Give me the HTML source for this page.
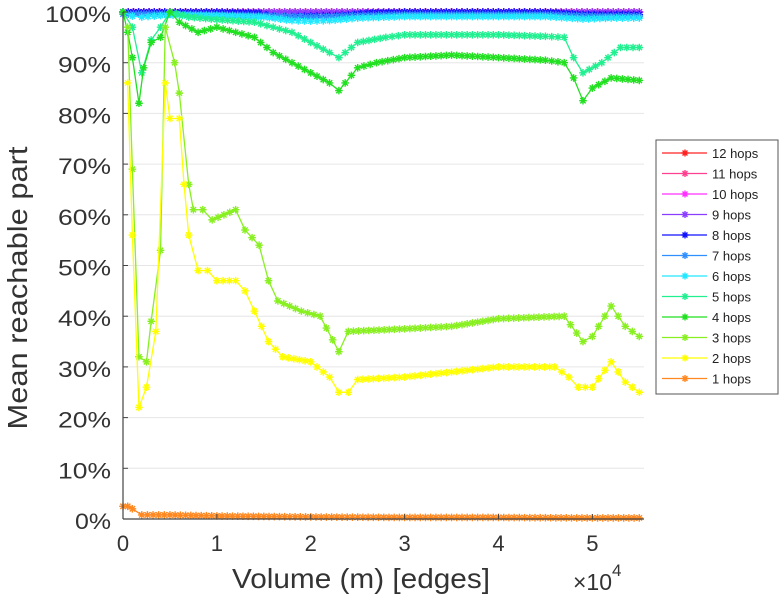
<!DOCTYPE html>
<html><head><meta charset="utf-8"><style>
body{margin:0;background:#fff;}
svg{display:block;font-family:"Liberation Sans",sans-serif;}
</style></head><body>
<svg id="chart" width="781" height="600">
<g id="grid"></g>
<g id="series"></g>
<g id="axes"></g>
<text x="27" y="288" font-size="28" fill="#333" text-anchor="middle" textLength="283" lengthAdjust="spacingAndGlyphs" transform="rotate(-90 27 288)">Mean reachable part</text>
<text x="361" y="588" font-size="28" fill="#333" text-anchor="middle" textLength="258" lengthAdjust="spacingAndGlyphs">Volume (m) [edges]</text>
<text x="573" y="590" font-size="23" fill="#333">×10<tspan dy="-14" font-size="17">4</tspan></text>
<g id="legend"></g>
</svg>
<script>
const yTicks=[0,10,20,30,40,50,60,70,80,90,100];
const xTicks=[0,1,2,3,4,5];
const names=["12 hops","11 hops","10 hops","9 hops","8 hops","7 hops","6 hops","5 hops","4 hops","3 hops","2 hops","1 hops"];
const colors=["#ff2020","#ff4090","#ff30ff","#8a3cff","#1010ff","#2f8fff","#20e8ff","#20f090","#20e020","#88f020","#ffff00","#ff8820"];
const x12=[0,0.5,1,1.5,2,2.5,3,3.5,4,4.5,5,5.5];
const y12=[100,100,100,100,100,100,100,100,100,100,100,100];
const x8=[0,0.5,1,1.45,1.6,1.8,2,2.2,2.4,2.6,3,3.5,4,4.5,4.9,5.2,5.5];
const y8=[100,100,100,99.8,99.2,99.1,99.2,99.3,99.4,99.8,100,100,100,100,99.5,99.5,99.5];
const x7=[0,0.5,1,1.5,2,2.5,3,3.5,4,4.5,5,5.5];
const y7=[99.6,99.6,99.5,99.3,99,99.3,99.5,99.5,99.5,99.5,99.2,99.2];
const x6=[0,0.1,0.2,0.4,0.6,1,1.5,1.8,2,2.2,2.5,3,3.5,4,4.5,4.9,5.2,5.5];
const y6=[100,99.2,99,99.3,99.4,99.3,99,98.3,98.2,98.3,98.8,99.1,99.1,99.1,99.1,98.6,98.8,98.8];
const x5=[0,0.1,0.2,0.3,0.4,0.5,0.7,1,1.4,1.6,1.8,2,2.2,2.3,2.5,2.8,3,3.5,4,4.5,4.7,4.8,4.9,5.1,5.3,5.5];
const y5=[100,97,88,94.5,97,100,99,98.5,98,97,96,94,92,91,94,95,95.5,95.5,95.5,95.2,95,91,88,90,93,93];
const x4=[0,0.05,0.1,0.17,0.22,0.3,0.4,0.5,0.6,0.8,1,1.2,1.4,1.6,1.8,2,2.2,2.3,2.5,2.7,3,3.5,4,4.5,4.7,4.8,4.9,5,5.2,5.5];
const y4=[100,96,91,82,89,94,95,100,98,96,97,96,95,92,90,88,86,84.5,89,90,91,91.5,91,90.5,90,87,82.5,85,87,86.5];
const x3=[0.05,0.1,0.17,0.25,0.3,0.4,0.45,0.55,0.6,0.7,0.75,0.85,0.95,1.2,1.3,1.45,1.55,1.65,1.9,2.1,2.3,2.4,3,3.5,4,4.7,4.9,5,5.2,5.35,5.5];
const y3=[97,69,32,31,39,53,97,90,84,66,61,61,59,61,57,54,47,43,41,40,33,37,37.5,38,39.5,40,35,36,42,38,36];
const x2=[0.05,0.1,0.17,0.25,0.35,0.45,0.5,0.6,0.65,0.7,0.8,0.9,1,1.2,1.3,1.4,1.55,1.7,2,2.2,2.3,2.4,2.5,3,3.5,4,4.6,4.75,4.85,5,5.2,5.35,5.5];
const y2=[86,56,22,26,37,86,79,79,66,56,49,49,47,47,45,41,35,32,31,28,25,25,27.5,28,29,30,30,28,26,26,31,27,25];
const x1=[0,0.05,0.1,0.2,0.5,1,2,3,4,5,5.5];
const y1=[2.5,2.5,2,0.8,0.8,0.6,0.4,0.3,0.3,0.2,0.2];
const seriesX=[x12,x12,x12,x12,x8,x7,x6,x5,x4,x3,x2,x1];
const seriesY=[y12,y12,y12,y12,y8,y7,y6,y5,y4,y3,y2,y1];

const NS="http://www.w3.org/2000/svg";
const X0=123,X1=644,XMAX=5.55,Y0=519,Y1=12;
function sx(v){return X0+v*(X1-X0)/XMAX;}
function sy(v){return Y0-v*(Y0-Y1)/100;}
function mk(tag,attrs,parent){const e=document.createElementNS(NS,tag);for(const k in attrs)e.setAttribute(k,attrs[k]);parent.appendChild(e);return e;}
function star(g,x,y,c,r){let d="";for(let a=0;a<4;a++){const t=a*Math.PI/4;d+=`M${x-r*Math.cos(t)} ${y-r*Math.sin(t)}L${x+r*Math.cos(t)} ${y+r*Math.sin(t)}`;}return mk("path",{d:d,stroke:c,"stroke-width":1.4,fill:"none"},g);}
const grid=document.getElementById("grid"),axes=document.getElementById("axes"),sg=document.getElementById("series"),lg=document.getElementById("legend");
yTicks.forEach(t=>{
 const l=mk("line",{x1:X0,x2:X1,y1:sy(t),y2:sy(t),stroke:"#e6e6e6","stroke-width":1},grid);
 
 
 mk("line",{x1:X0,x2:X0+5,y1:sy(t),y2:sy(t),stroke:"#444"},axes);
 const tx=mk("text",{x:X0-12,y:sy(t)+10,"font-size":22,fill:"#333","text-anchor":"end",textLength:(t===100?66:t===0?36:53),lengthAdjust:"spacingAndGlyphs"},axes);
 tx.textContent=t+"%";
 
 
});
xTicks.forEach(t=>{
 mk("line",{x1:sx(t),x2:sx(t),y1:Y0,y2:Y0-5,stroke:"#444"},axes);
 const tx=mk("text",{x:sx(t),y:Y0+32,"font-size":22,fill:"#333","text-anchor":"middle"},axes);
 tx.textContent=t;
 
 
});
mk("line",{x1:X0,x2:X0,y1:Y1,y2:Y0,stroke:"#444","stroke-width":1.2},axes);
mk("line",{x1:X0,x2:X1,y1:Y0,y2:Y0,stroke:"#444","stroke-width":1.2},axes);
for(let i=0;i<names.length;i++){
 const g=mk("g",{},sg);
 
 
 const xs=seriesX[i],ys=seriesY[i];
 const pts=xs.map((x,j)=>sx(x)+","+sy(ys[j])).join(" ");
 mk("polyline",{points:pts,fill:"none",stroke:colors[i],"stroke-width":1.3},g);
 xs.forEach((x,j)=>{
  star(g,sx(x),sy(ys[j]),colors[i],3.8);
  if(j<xs.length-1){const n=Math.floor((sx(xs[j+1])-sx(x))/5);for(let k=1;k<n;k++){const f=k/n;star(g,sx(x)+f*(sx(xs[j+1])-sx(x)),sy(ys[j])+f*(sy(ys[j+1])-sy(ys[j])),colors[i],3.8);}}
 });
}
mk("rect",{x:656,y:140,width:122,height:254,fill:"#fff",stroke:"#555","stroke-width":1},lg);
names.forEach((n,i)=>{
 const y=153+i*20.5;
 const e=mk("g",{},lg);
 
 
 mk("line",{x1:662,x2:707,y1:y,y2:y,stroke:colors[i],"stroke-width":1.2},e);
 star(e,685,y,colors[i],3.5);
 const t=mk("text",{x:712,y:y+5,"font-size":13,fill:"#222"},e);
 t.textContent=n;
});
</script>
</body></html>
